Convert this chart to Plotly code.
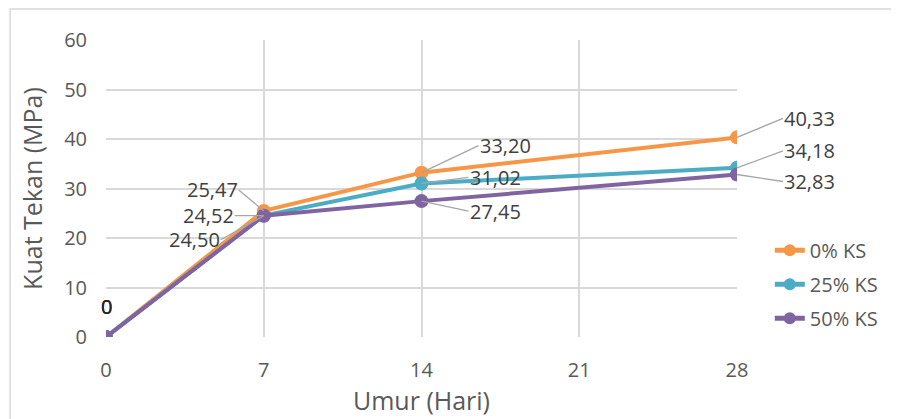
import plotly.graph_objects as go

umur = [0, 7, 14, 28]
ks0 = [0, 25.47, 33.20, 40.33]
ks25 = [0, 24.52, 31.02, 34.18]
ks50 = [0, 24.50, 27.45, 32.83]
names = ["0% KS", "25% KS", "50% KS"]
colors = ["#F79646", "#4BACC6", "#8064A2"]

def fmt(v):
    return "0" if v == 0 else f"{v:.2f}".replace(".", ",")

fig = go.Figure()
for ys, nm, c in zip([ks0, ks25, ks50], names, colors):
    fig.add_trace(go.Scatter(x=umur, y=ys, name=nm, mode="lines+markers",
                             legendgroup=nm,
                             line=dict(color=c, width=4),
                             marker=dict(color=c, size=14)))

# label offsets (pixels) for leader-line annotations
offsets = {
    0: [None, (-25, -21), (57, -27), (46, -19)],
    1: [None, (-29, 0), (47, -6), (46, -17)],
    2: [None, (-43, 24), (47, 10), (46, 7)],
}
for si, ys in enumerate([ks0, ks25, ks50]):
    for pi, (xv, yv) in enumerate(zip(umur, ys)):
        if pi == 0:
            fig.add_annotation(x=xv, y=yv, text=fmt(yv), showarrow=False,
                               yshift=31, font=dict(size=20, color="#262626"))
            continue
        ax, ay = offsets[si][pi]
        anchor = "left" if ax > 0 else "right"
        fig.add_annotation(x=xv, y=yv, text=fmt(yv), showarrow=True,
                           arrowhead=0, arrowwidth=1.3, arrowcolor="#A6A6A6",
                           ax=ax, ay=ay, xanchor=anchor, yanchor="middle",
                           borderpad=0,
                           font=dict(size=20, color="#404040"))

fig.add_shape(type="rect", xref="paper", yref="paper",
              x0=-0.152, x1=1.4, y0=-0.5, y1=1.104,
              line=dict(color="#D9D9D9", width=1.5), layer="below")

fig.update_layout(
    width=891, height=411,
    margin=dict(l=98, r=162, t=32, b=82, autoexpand=False),
    paper_bgcolor="white", plot_bgcolor="white",
    font=dict(family="Open Sans, Noto Sans, sans-serif", color="#595959", size=20),
    showlegend=True,
    legend=dict(x=1.052, y=0.178, xanchor="left", yanchor="middle",
                font=dict(size=20, color="#595959"),
                tracegroupgap=5, itemsizing="constant"),
)
fig.update_xaxes(range=[0, 28], tickvals=[0, 7, 14, 21, 28], showgrid=True,
                 gridcolor="#D9D9D9", gridwidth=1.5, zeroline=False,
                 showline=False, ticks="", ticklabelstandoff=19, automargin=False,
                 title=dict(text="Umur (Hari)", font=dict(size=25, color="#595959"),
                            standoff=6),
                 tickfont=dict(size=20, color="#595959"))
fig.update_yaxes(range=[0, 60], dtick=10, showgrid=True, gridcolor="#D9D9D9",
                 gridwidth=1.5, zeroline=False, showline=False, automargin=False,
                 ticks="", ticklabelstandoff=18,
                 title=dict(text="Kuat Tekan (MPa)", font=dict(size=25, color="#595959"),
                            standoff=14),
                 tickfont=dict(size=20, color="#595959"))
fig.write_html("out.html")
